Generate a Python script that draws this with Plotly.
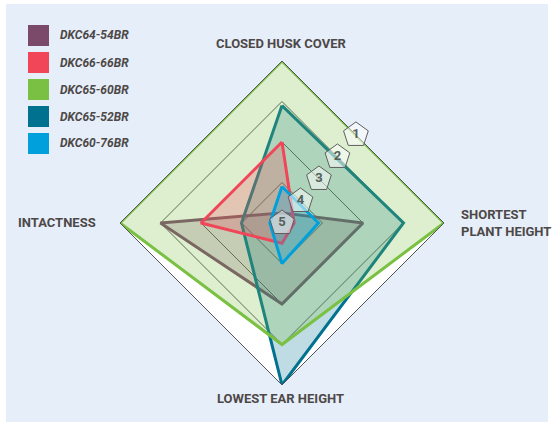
import math
import plotly.graph_objects as go

# ---------------- data ----------------
axes = ["CLOSED HUSK COVER", "SHORTEST PLANT HEIGHT", "LOWEST EAR HEIGHT", "INTACTNESS"]
axis_titles = ["CLOSED HUSK COVER", "SHORTEST<br>PLANT HEIGHT", "LOWEST EAR HEIGHT", "INTACTNESS"]
hybrids = ["DKC64-54BR", "DKC66-66BR", "DKC65-60BR", "DKC65-52BR", "DKC60-76BR"]
scale_ticks = [1, 2, 3, 4, 5]

dkc64_54br = [4.75, 3, 3, 2]
dkc66_66br = [3, 4.7, 4.5, 3]
dkc65_60br = [1, 1, 2, 1]
dkc65_52br = [2.1, 2, 1, 4]
dkc60_76br = [4.1, 4.1, 4, 4.7]

series_values = {
    "DKC64-54BR": dkc64_54br,
    "DKC66-66BR": dkc66_66br,
    "DKC65-60BR": dkc65_60br,
    "DKC65-52BR": dkc65_52br,
    "DKC60-76BR": dkc60_76br,
}
colors = {
    "DKC64-54BR": (123, 74, 107),
    "DKC66-66BR": (240, 70, 88),
    "DKC65-60BR": (122, 193, 67),
    "DKC65-52BR": (0, 113, 143),
    "DKC60-76BR": (0, 160, 220),
}
draw_order = ["DKC64-54BR", "DKC65-52BR", "DKC65-60BR", "DKC66-66BR", "DKC60-76BR"]

# ---------------- layout helpers ----------------
W, H = 555, 422
TEXT = "#4d4847"
FONT = "Roboto, Arial, sans-serif"

def px(x):
    return x / W

def py(y):
    return 1 - y / H

cx, cy, R = 282, 223, 162
domain = dict(x=[px(cx - R), px(cx + R)], y=[py(cy + R), py(cy - R)])

fig = go.Figure()

for name in draw_order:
    r, g, b = colors[name]
    vals = series_values[name]
    fig.add_trace(go.Scatterpolar(
        r=vals + vals[:1],
        theta=axes + axes[:1],
        mode="lines",
        fill="toself",
        fillcolor=f"rgba({r},{g},{b},0.25)",
        line=dict(color=f"rgb({r},{g},{b})", width=3),
        name=name,
        showlegend=False,
        subplot="polar",
    ))

# scale badges (pentagons) along the upper-right edge midpoints
phi = 50.0
k = math.cos(math.radians(phi)) + math.sin(math.radians(phi))
badge_r = [(5 - t) / 4 / k for t in scale_ticks]
fig.add_trace(go.Scatterpolar(
    r=badge_r,
    theta=[phi] * len(scale_ticks),
    mode="markers+text",
    text=[f"<b>{t}</b>" for t in scale_ticks],
    textposition="middle center",
    textfont=dict(family=FONT, size=13, color="#55605a"),
    marker=dict(symbol="pentagon", size=26, color="rgba(255,255,255,0.5)",
                line=dict(color="#5f5f5f", width=1)),
    showlegend=False,
    subplot="polar2",
))

shapes = [dict(type="rect", xref="paper", yref="paper",
               x0=px(6), x1=px(548), y0=py(422), y1=py(4),
               fillcolor="#e6eef9", line=dict(width=0), layer="below")]
annotations = []
for i, name in enumerate(hybrids):
    r, g, b = colors[name]
    top = 25 + 27 * i
    shapes.append(dict(type="rect", xref="paper", yref="paper",
                       x0=px(28), x1=px(49), y0=py(top + 21), y1=py(top),
                       fillcolor=f"rgb({r},{g},{b})", line=dict(width=0)))
    annotations.append(dict(xref="paper", yref="paper", x=px(58), y=py(top + 10.5),
                            text=f"<b><i>{name}</i></b>", showarrow=False,
                            xanchor="left", yanchor="middle",
                            font=dict(family=FONT, size=12, color=TEXT)))

title_pos = [
    (281, 44, "center"),
    (459, 223, "left"),
    (280, 398, "center"),
    (98, 222, "right"),
]
for txt, (x, y, anc) in zip(axis_titles, title_pos):
    annotations.append(dict(xref="paper", yref="paper", x=px(x), y=py(y),
                            text=f"<b>{txt}</b>", showarrow=False,
                            xanchor=anc, yanchor="middle", align=anc,
                            font=dict(family=FONT, size=13, color=TEXT)))

fig.update_layout(
    width=W, height=H,
    margin=dict(l=0, r=0, t=0, b=0),
    paper_bgcolor="white",
    plot_bgcolor="white",
    shapes=shapes,
    annotations=annotations,
    polar=dict(
        domain=domain,
        bgcolor="white",
        gridshape="linear",
        angularaxis=dict(type="category", rotation=90, direction="clockwise",
                         showline=True, linecolor="#555555", linewidth=1,
                         showgrid=False, showticklabels=False, ticks=""),
        radialaxis=dict(range=[5, 1], tickvals=scale_ticks[:-1], showticklabels=False,
                        ticks="", showline=False, gridcolor="#555555", gridwidth=1),
    ),
    polar2=dict(
        domain=domain,
        bgcolor="rgba(0,0,0,0)",
        angularaxis=dict(visible=False, rotation=0, direction="counterclockwise"),
        radialaxis=dict(visible=False, range=[0, 1]),
    ),
)

fig.write_html("out.html", config={"displayModeBar": False},
               post_script="document.body.style.margin='0px';document.body.style.overflow='hidden';")
